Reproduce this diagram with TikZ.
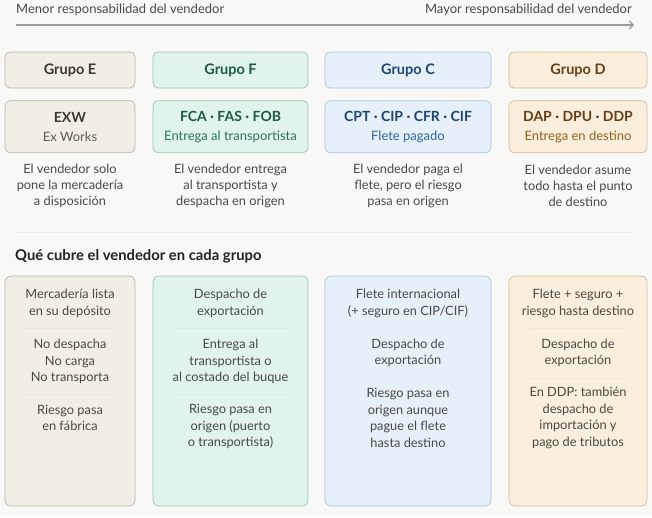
\documentclass[tikz,border=0pt]{standalone}
\usepackage{fontspec}
\setmainfont{Lato}
\usepackage{xcolor}
\usetikzlibrary{arrows.meta,positioning}
\definecolor{bgcol}{HTML}{F8F8F6}
\definecolor{txtgray}{HTML}{4A4946}
\definecolor{arrgray}{HTML}{9A9A98}
\definecolor{rulecol}{HTML}{ECECE8}
\definecolor{titlecol}{HTML}{222222}
\definecolor{eFill}{HTML}{F1EEE8}
\definecolor{eLine}{HTML}{BAB5AC}
\definecolor{eText}{HTML}{3B3935}
\definecolor{eSub}{HTML}{5E5B56}
\definecolor{fFill}{HTML}{E0F3EC}
\definecolor{fLine}{HTML}{93C8B2}
\definecolor{fText}{HTML}{1E5A43}
\definecolor{fSub}{HTML}{2B7656}
\definecolor{cFill}{HTML}{E6F0FB}
\definecolor{cLine}{HTML}{A9C5E6}
\definecolor{cText}{HTML}{1D4677}
\definecolor{cSub}{HTML}{2F66A6}
\definecolor{dFill}{HTML}{FBEEDC}
\definecolor{dLine}{HTML}{DDB98D}
\definecolor{dText}{HTML}{6A3E15}
\definecolor{dSub}{HTML}{94601F}

\begin{document}
\begin{tikzpicture}[x=1pt, y=-1pt,
    grp/.style={draw, rounded corners=5pt, line width=0.7pt, minimum height=36pt, inner sep=0pt, font=\fontsize{14.5}{16}\selectfont\bfseries},
    code/.style={draw, rounded corners=5pt, line width=0.7pt, minimum height=52pt, inner sep=0pt, align=center, font=\fontsize{13}{19}\selectfont},
    desc/.style={align=center, inner sep=0pt, text=txtgray, font=\fontsize{12.8}{15.7}\selectfont},
    col/.style={draw, rounded corners=6pt, line width=0.7pt, minimum height=230pt, inner sep=0pt},
    item/.style={align=center, inner sep=0pt, text=txtgray, font=\fontsize{12.8}{16.5}\selectfont},
    lbl/.style={inner sep=0pt, text=txtgray, font=\fontsize{13}{14}\selectfont},
    arr/.style={-{Straight Barb[length=4pt,width=8pt]}, line width=1.1pt, draw=arrgray}
]
\fill[bgcol] (0,0) rectangle (652,517);

\node[lbl, anchor=west] (lblMenor) at (16,10) {Menor responsabilidad del vendedor};
\node[lbl, anchor=east] (lblMayor) at (632,10) {Mayor responsabilidad del vendedor};
\coordinate (arrStart) at (16,25);
\coordinate (arrEnd) at (634,25);
\draw[arr] (arrStart) -- (arrEnd);

\node[grp, fill=eFill, draw=eLine, text=eText, minimum width=130pt] (grpE) at (70,70) {Grupo E};
\node[grp, fill=fFill, draw=fLine, text=fText, minimum width=155pt] (grpF) at (230.5,70) {Grupo F};
\node[grp, fill=cFill, draw=cLine, text=cText, minimum width=166pt] (grpC) at (408,70) {Grupo C};
\node[grp, fill=dFill, draw=dLine, text=dText, minimum width=138pt] (grpD) at (578,70) {Grupo D};

\node[code, fill=eFill, draw=eLine, minimum width=130pt, below=12pt of grpE] (codeE)
    {{\fontsize{14}{19}\selectfont\bfseries\color{eText}EXW}\\{\color{eSub}Ex Works}};
\node[code, fill=fFill, draw=fLine, minimum width=155pt, below=12pt of grpF] (codeF)
    {{\fontsize{14}{19}\selectfont\bfseries\color{fText}FCA · FAS · FOB}\\{\color{fSub}Entrega al transportista}};
\node[code, fill=cFill, draw=cLine, minimum width=166pt, below=12pt of grpC] (codeC)
    {{\fontsize{14}{19}\selectfont\bfseries\color{cText}CPT · CIP · CFR · CIF}\\{\color{cSub}Flete pagado}};
\node[code, fill=dFill, draw=dLine, minimum width=138pt, below=12pt of grpD] (codeD)
    {{\fontsize{14}{19}\selectfont\bfseries\color{dText}DAP · DPU · DDP}\\{\color{dSub}Entrega en destino}};

\node[desc] (descE) at (70,186) {El vendedor solo\\pone la mercadería\\a disposición};
\node[desc] (descF) at (230.5,186) {El vendedor entrega\\al transportista y\\despacha en origen};
\node[desc] (descC) at (408,186) {El vendedor paga el\\flete, pero el riesgo\\pasa en origen};
\node[desc] (descD) at (578,186) {El vendedor asume\\todo hasta el punto\\de destino};

\draw[rulecol, line width=0.8pt] (15,232) -- (633,232);
\node[anchor=west, inner sep=0pt, text=titlecol, font=\fontsize{14.8}{16}\selectfont\bfseries] (secTitle) at (15,256) {Qué cubre el vendedor en cada grupo};

\node[col, fill=eFill, draw=eLine, minimum width=130pt] (colE) at (70,391) {};
\node[col, fill=fFill, draw=fLine, minimum width=155pt] (colF) at (230.5,391) {};
\node[col, fill=cFill, draw=cLine, minimum width=166pt] (colC) at (408,391) {};
\node[col, fill=dFill, draw=dLine, minimum width=138pt] (colD) at (578,391) {};

\node[item] (itemE1) at (70,303.5) {Mercadería lista\\en su depósito};
\draw[eLine!35, line width=0.8pt] (25,328) -- (115,328);
\node[item] (itemE2) at (70,361.5) {No despacha\\No carga\\No transporta};
\draw[eLine!35, line width=0.8pt] (25,394) -- (115,394);
\node[item] (itemE3) at (70,418) {Riesgo pasa\\en fábrica};

\node[item] (itemF1) at (230.5,303.5) {Despacho de\\exportación};
\draw[fLine!35, line width=0.8pt] (173,328) -- (288,328);
\node[item] (itemF2) at (230.5,361.5) {Entrega al\\transportista o\\al costado del buque};
\draw[fLine!35, line width=0.8pt] (173,394) -- (288,394);
\node[item] (itemF3) at (230.5,426.5) {Riesgo pasa en\\origen (puerto\\o transportista)};

\node[item] (itemC1) at (408,303.5) {Flete internacional\\(+ seguro en CIP/CIF)};
\draw[cLine!35, line width=0.8pt] (345,328) -- (471,328);
\node[item] (itemC2) at (408,353) {Despacho de\\exportación};
\draw[cLine!35, line width=0.8pt] (345,378) -- (471,378);
\node[item] (itemC3) at (408,418) {Riesgo pasa en\\origen aunque\\pague el flete\\hasta destino};

\node[item] (itemD1) at (578,303.5) {Flete + seguro +\\riesgo hasta destino};
\draw[dLine!35, line width=0.8pt] (529,328) -- (627,328);
\node[item] (itemD2) at (578,353) {Despacho de\\exportación};
\draw[dLine!35, line width=0.8pt] (529,378) -- (627,378);
\node[item] (itemD3) at (578,418) {En DDP: también\\despacho de\\importación y\\pago de tributos};
\end{tikzpicture}
\end{document}
